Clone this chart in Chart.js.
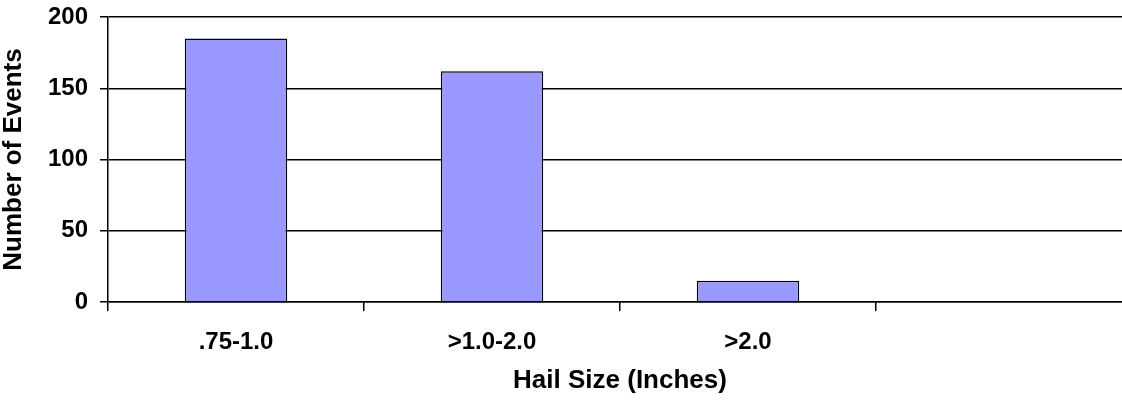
<!DOCTYPE html>
<html>
<head>
<meta charset="utf-8">
<script src="https://cdn.jsdelivr.net/npm/chart.js@4"></script>
<style>
    html, body { margin: 0; padding: 0; background: #fff; overflow: hidden; }
    #wrap { width: 1150px; height: 404px; }
</style>
</head>
<body>
<div id="wrap"><canvas id="hailCanvas"></canvas></div>
<script>
const HAIL_SIZES = [".75-1.0", ">1.0-2.0", ">2.0", ""];
const EVENT_COUNTS = [185, 162, 15, null];
const Y_TICKS = [0, 50, 100, 150, 200];

const FONT = "'Liberation Sans', Arial, sans-serif";

window.addEventListener("DOMContentLoaded", () => {
    const ctx = document.getElementById("hailCanvas").getContext("2d");

    new Chart(ctx, {
        type: "bar",
        data: {
            labels: HAIL_SIZES,
            datasets: [
                {
                    label: "Events",
                    data: EVENT_COUNTS,
                    backgroundColor: "#9999FF",
                    borderColor: "#000000",
                    borderWidth: 1.5,
                    categoryPercentage: 1.0,
                    barPercentage: 0.4
                }
            ]
        },
        options: {
            responsive: true,
            maintainAspectRatio: false,
            animation: false,
            layout: {
                padding: { top: 17, right: 18, left: 0, bottom: 0 }
            },
            scales: {
                x: {
                    grid: {
                        drawOnChartArea: false,
                        color: "#000000",
                        lineWidth: 1.5,
                        tickLength: 9
                    },
                    border: { display: true, color: "#000000", width: 1.5 },
                    ticks: {
                        color: "#000000",
                        padding: 17,
                        maxRotation: 0,
                        font: { family: FONT, size: 24, weight: "bold" }
                    },
                    title: {
                        display: true,
                        text: "Hail Size (Inches)",
                        color: "#000000",
                        padding: { top: 0, bottom: 8 },
                        font: { family: FONT, size: 26, weight: "bold" }
                    },
                    afterFit: (scale) => {
                        scale.height = 102;
                        scale.paddingLeft = 0;
                        scale.paddingRight = 0;
                    }
                },
                y: {
                    min: 0,
                    max: 200,
                    afterBuildTicks: (scale) => {
                        scale.ticks = Y_TICKS.map(v => ({ value: v }));
                    },
                    grid: {
                        color: "#000000",
                        lineWidth: 1.5,
                        tickLength: 8
                    },
                    border: { display: true, color: "#000000", width: 1.5 },
                    ticks: {
                        color: "#000000",
                        padding: 12,
                        font: { family: FONT, size: 24, weight: "bold" }
                    },
                    title: {
                        display: true,
                        text: "Number of Events",
                        color: "#000000",
                        padding: { top: -2, bottom: 0 },
                        font: { family: FONT, size: 26, weight: "bold" }
                    },
                    afterFit: (scale) => {
                        scale.width = 108;
                        scale.paddingTop = 0;
                        scale.paddingBottom = 0;
                    }
                }
            },
            plugins: {
                legend: { display: false },
                tooltip: { enabled: false }
            }
        }
    });
});
</script>
</body>
</html>
